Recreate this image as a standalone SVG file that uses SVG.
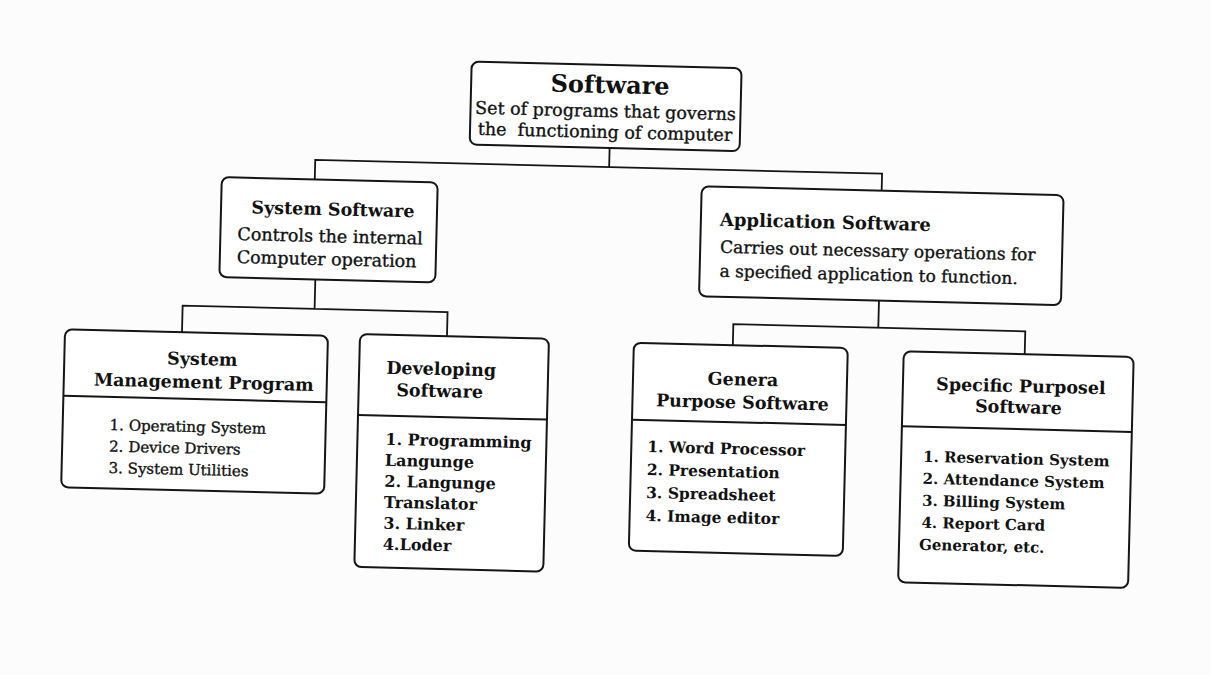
<svg xmlns="http://www.w3.org/2000/svg" width="1211" height="675" viewBox="0 0 1211 675">
  <style>
    .box { fill: #ffffff; stroke: #151515; stroke-width: 2; }
    .rule { stroke: #151515; stroke-width: 2; }
    .wire { fill: none; stroke: #151515; stroke-width: 1.8; }
    text { font-family: "DejaVu Serif", "Liberation Serif", serif; fill: #111111; }
    .title { font-weight: bold; font-size: 17.5px; text-anchor: middle; }
    .body { font-size: 17.5px; }
    .mid { text-anchor: middle; }
    /* printed body copy is a little heavier than a plain regular face */
    .ink { stroke: #111111; stroke-width: 0.35px; }
  </style>
  <rect width="1211" height="675" fill="#fcfcfc"/>

  <!-- whole chart sits slightly skewed on the page -->
  <g transform="rotate(1.4 605 337)">

    <g id="connectors">
      <path class="wire" d="M605 148 V167 M311 186.5 V167 H878 V184"/>
      <path class="wire" d="M314 286.5 V316 M182 342.5 V316 H447 V340"/>
      <path class="wire" d="M878 294 V321 M733 342 V321 H1025 V344"/>
    </g>

    <g id="software">
      <rect class="box" x="465" y="65" width="270" height="83" rx="7"/>
      <text x="604" y="93" font-size="24" font-weight="bold" text-anchor="middle">Software</text>
      <text class="body mid ink" x="600" y="117">Set of programs that governs</text>
      <text class="body mid ink" x="600" y="138" xml:space="preserve">the  functioning of computer</text>
    </g>

    <g id="system-software">
      <rect class="box" x="218" y="186.5" width="216" height="100" rx="7"/>
      <text class="title" x="330" y="222">System Software</text>
      <text class="body ink" x="235" y="249">Controls the internal</text>
      <text class="body ink" x="235" y="272">Computer operation</text>
    </g>

    <g id="application-software">
      <rect class="box" x="698" y="184" width="362" height="110" rx="7"/>
      <text x="717" y="223" font-size="18" font-weight="bold">Application Software</text>
      <text class="ink" x="718" y="250" font-size="17">Carries out necessary operations for</text>
      <text class="ink" x="718" y="274" font-size="17">a specified application to function.</text>
    </g>

    <g id="system-management">
      <rect class="box" x="65" y="342.5" width="263" height="158" rx="7"/>
      <text class="title" x="203" y="375">System</text>
      <text class="title" x="205" y="398">Management Program</text>
      <line class="rule" x1="65" y1="409" x2="328" y2="409"/>
      <g font-size="15" class="ink">
        <text class="ink" x="112" y="442">1. Operating System</text>
        <text class="ink" x="112" y="463.5">2. Device Drivers</text>
        <text class="ink" x="112" y="485">3. System Utilities</text>
      </g>
    </g>

    <g id="developing-software">
      <rect class="box" x="360" y="340" width="189" height="233" rx="7"/>
      <text class="title" x="442" y="379">Developing</text>
      <text class="title" x="441" y="401">Software</text>
      <line class="rule" x1="360" y1="421" x2="549" y2="421"/>
      <g font-size="16" font-weight="bold">
        <text x="388" y="450">1. Programming</text>
        <text x="388" y="471">Langunge</text>
        <text x="388" y="492">2. Langunge</text>
        <text x="388" y="513">Translator</text>
        <text x="388" y="534">3. Linker</text>
        <text x="388" y="555">4.Loder</text>
      </g>
    </g>

    <g id="general-purpose">
      <rect class="box" x="634" y="342" width="214" height="208" rx="7"/>
      <text class="title" x="744" y="382">Genera</text>
      <text class="title" x="744" y="405">Purpose Software</text>
      <line class="rule" x1="634" y1="419" x2="848" y2="419"/>
      <g font-size="15.5" font-weight="bold">
        <text x="650" y="451">1. Word Processor</text>
        <text x="650" y="474">2. Presentation</text>
        <text x="650" y="497">3. Spreadsheet</text>
        <text x="650" y="520">4. Image editor</text>
      </g>
    </g>

    <g id="specific-purpose">
      <rect class="box" x="904" y="344" width="230" height="231" rx="7"/>
      <text class="title" x="1022" y="382">Specific Purposel</text>
      <text class="title" x="1020" y="403">Software</text>
      <line class="rule" x1="904" y1="419" x2="1134" y2="419"/>
      <g font-size="15" font-weight="bold">
        <text x="926" y="454">1. Reservation System</text>
        <text x="926" y="476">2. Attendance System</text>
        <text x="926" y="498">3. Billing System</text>
        <text x="926" y="520">4. Report Card</text>
        <text x="924" y="542">Generator, etc.</text>
      </g>
    </g>
  </g>
</svg>
